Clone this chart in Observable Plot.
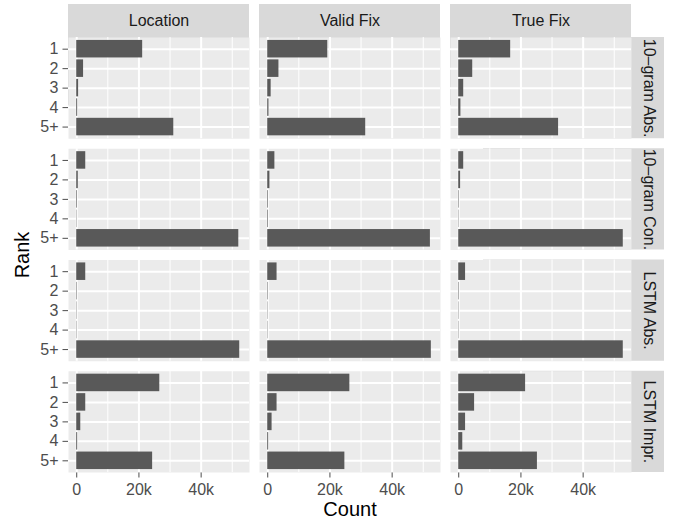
<!DOCTYPE html>
<html>
<head>
<meta charset="utf-8">
<script src="https://cdn.jsdelivr.net/npm/d3@7"></script>
<script src="https://cdn.jsdelivr.net/npm/@observablehq/plot@0.6"></script>
<style>
  html, body { margin: 0; padding: 0; background: white; }
  #chart { width: 677px; height: 523px; }
  #chart svg g[aria-label="x-axis tick"], #chart svg g[aria-label="y-axis tick"] { stroke: #333333; }
</style>
</head>
<body>
<div id="chart"></div>
<script>
// Categories
const ranks = ["1", "2", "3", "4", "5+"];
const methods = ["Location", "Valid Fix", "True Fix"];
const models = ["10\u2013gram Abs.", "10\u2013gram Con.", "LSTM Abs.", "LSTM Impr."];

// Counts per rank (1,2,3,4,5+) for each method [Location, Valid Fix, True Fix]
const ngramAbs  = [[21200, 2200, 600, 300, 31200], [19300, 3600, 1100, 400, 31500], [16700, 4500, 1600, 700, 32100]];
const ngramCon  = [[2900, 500, 200, 100, 52100],   [2300, 700, 200, 200, 52300],    [1600, 600, 150, 100, 52900]];
const lstmAbs   = [[2900, 150, 100, 100, 52400],   [3000, 150, 100, 100, 52600],    [2200, 150, 100, 100, 52900]];
const lstmImpr  = [[26700, 2900, 1300, 300, 24400],[26400, 3000, 1400, 300, 24800], [21500, 5100, 2200, 1300, 25300]];
const series = [ngramAbs, ngramCon, lstmAbs, lstmImpr];

// Tick values
const majorTicks = [0, 20000, 40000];
const minorTicks = [10000, 30000, 50000];

const data = [];
models.forEach((m, i) => methods.forEach((c, j) => ranks.forEach((r, k) =>
  data.push({model: m, method: c, rank: r, count: series[i][j][k]}))));

const maxCount = d3.max(data, d => d.count);
const xDomain = [-0.05 * maxCount, 1.05 * maxCount];

const W = 677, H = 523;
const mL = 68, mR = 46, mT = 37, mB = 51;
const gap = 10;
const panelW = (W - mL - mR - 2 * gap) / 3;
const panelH = (H - mT - mB - 3 * gap) / 4;
const strip = 33;
const fs = 16;

const chart = Plot.plot({
  width: W,
  height: H,
  marginLeft: mL,
  marginRight: mR,
  marginTop: mT,
  marginBottom: mB,
  style: {fontFamily: "'Liberation Sans', Arial, sans-serif", fontSize: fs + "px", color: "#4d4d4d", background: "white", overflow: "visible"},
  fx: {domain: methods, axis: null, paddingInner: gap / (panelW + gap), paddingOuter: 0, round: false, label: null},
  fy: {domain: models, axis: null, paddingInner: gap / (panelH + gap), paddingOuter: 0, round: false, label: null},
  x: {domain: xDomain, ticks: majorTicks, tickFormat: d => d === 0 ? "0" : (d / 1000) + "k", tickSize: 5.5, tickPadding: 5.5, label: null, axis: "bottom"},
  y: {domain: ranks, paddingInner: 0.1, paddingOuter: 0.15, tickSize: 5.5, tickPadding: 4.5, label: null, round: false},
  marks: [
    // strip backgrounds (top, right)
    Plot.rect(methods.map(c => ({method: c, model: models[0]})), {fx: "method", fy: "model", fill: "#d9d9d9", dy: -strip}),
    Plot.rect(models.map(m => ({method: methods[2], model: m})), {fx: "method", fy: "model", fill: "#d9d9d9", dx: strip}),
    // panel background and grid
    Plot.frame({fill: "#ebebeb"}),
    Plot.ruleX(minorTicks, {stroke: "white", strokeWidth: 1}),
    Plot.ruleX(majorTicks, {stroke: "white", strokeWidth: 2}),
    Plot.ruleY(ranks, {stroke: "white", strokeWidth: 2}),
    Plot.barX(data, {x: "count", y: "rank", fx: "method", fy: "model", fill: "#595959"}),
    // strip labels
    Plot.text(methods.map(c => ({method: c, model: models[0]})), {fx: "method", fy: "model", text: "method", frameAnchor: "top", dy: -strip / 2, lineAnchor: "middle", fill: "#1a1a1a", fontSize: fs}),
    Plot.text(models.map(m => ({method: methods[2], model: m})), {fx: "method", fy: "model", text: "model", frameAnchor: "right", dx: strip / 2 + 1, rotate: 90, lineAnchor: "middle", textAnchor: "middle", fill: "#1a1a1a", fontSize: fs}),
    // axis titles
    Plot.text([{method: methods[1], model: models[3], t: "Count"}], {fx: "method", fy: "model", text: "t", frameAnchor: "bottom", dy: 37, lineAnchor: "middle", fill: "black", fontSize: 20}),
    Plot.text([{method: methods[0], model: models[1], t: "Rank"}], {fx: "method", fy: "model", text: "t", frameAnchor: "bottom-left", dx: -46, dy: gap / 2, rotate: -90, lineAnchor: "middle", textAnchor: "middle", fill: "black", fontSize: 20})
  ]
});
document.getElementById("chart").appendChild(chart);
</script>
</body>
</html>
